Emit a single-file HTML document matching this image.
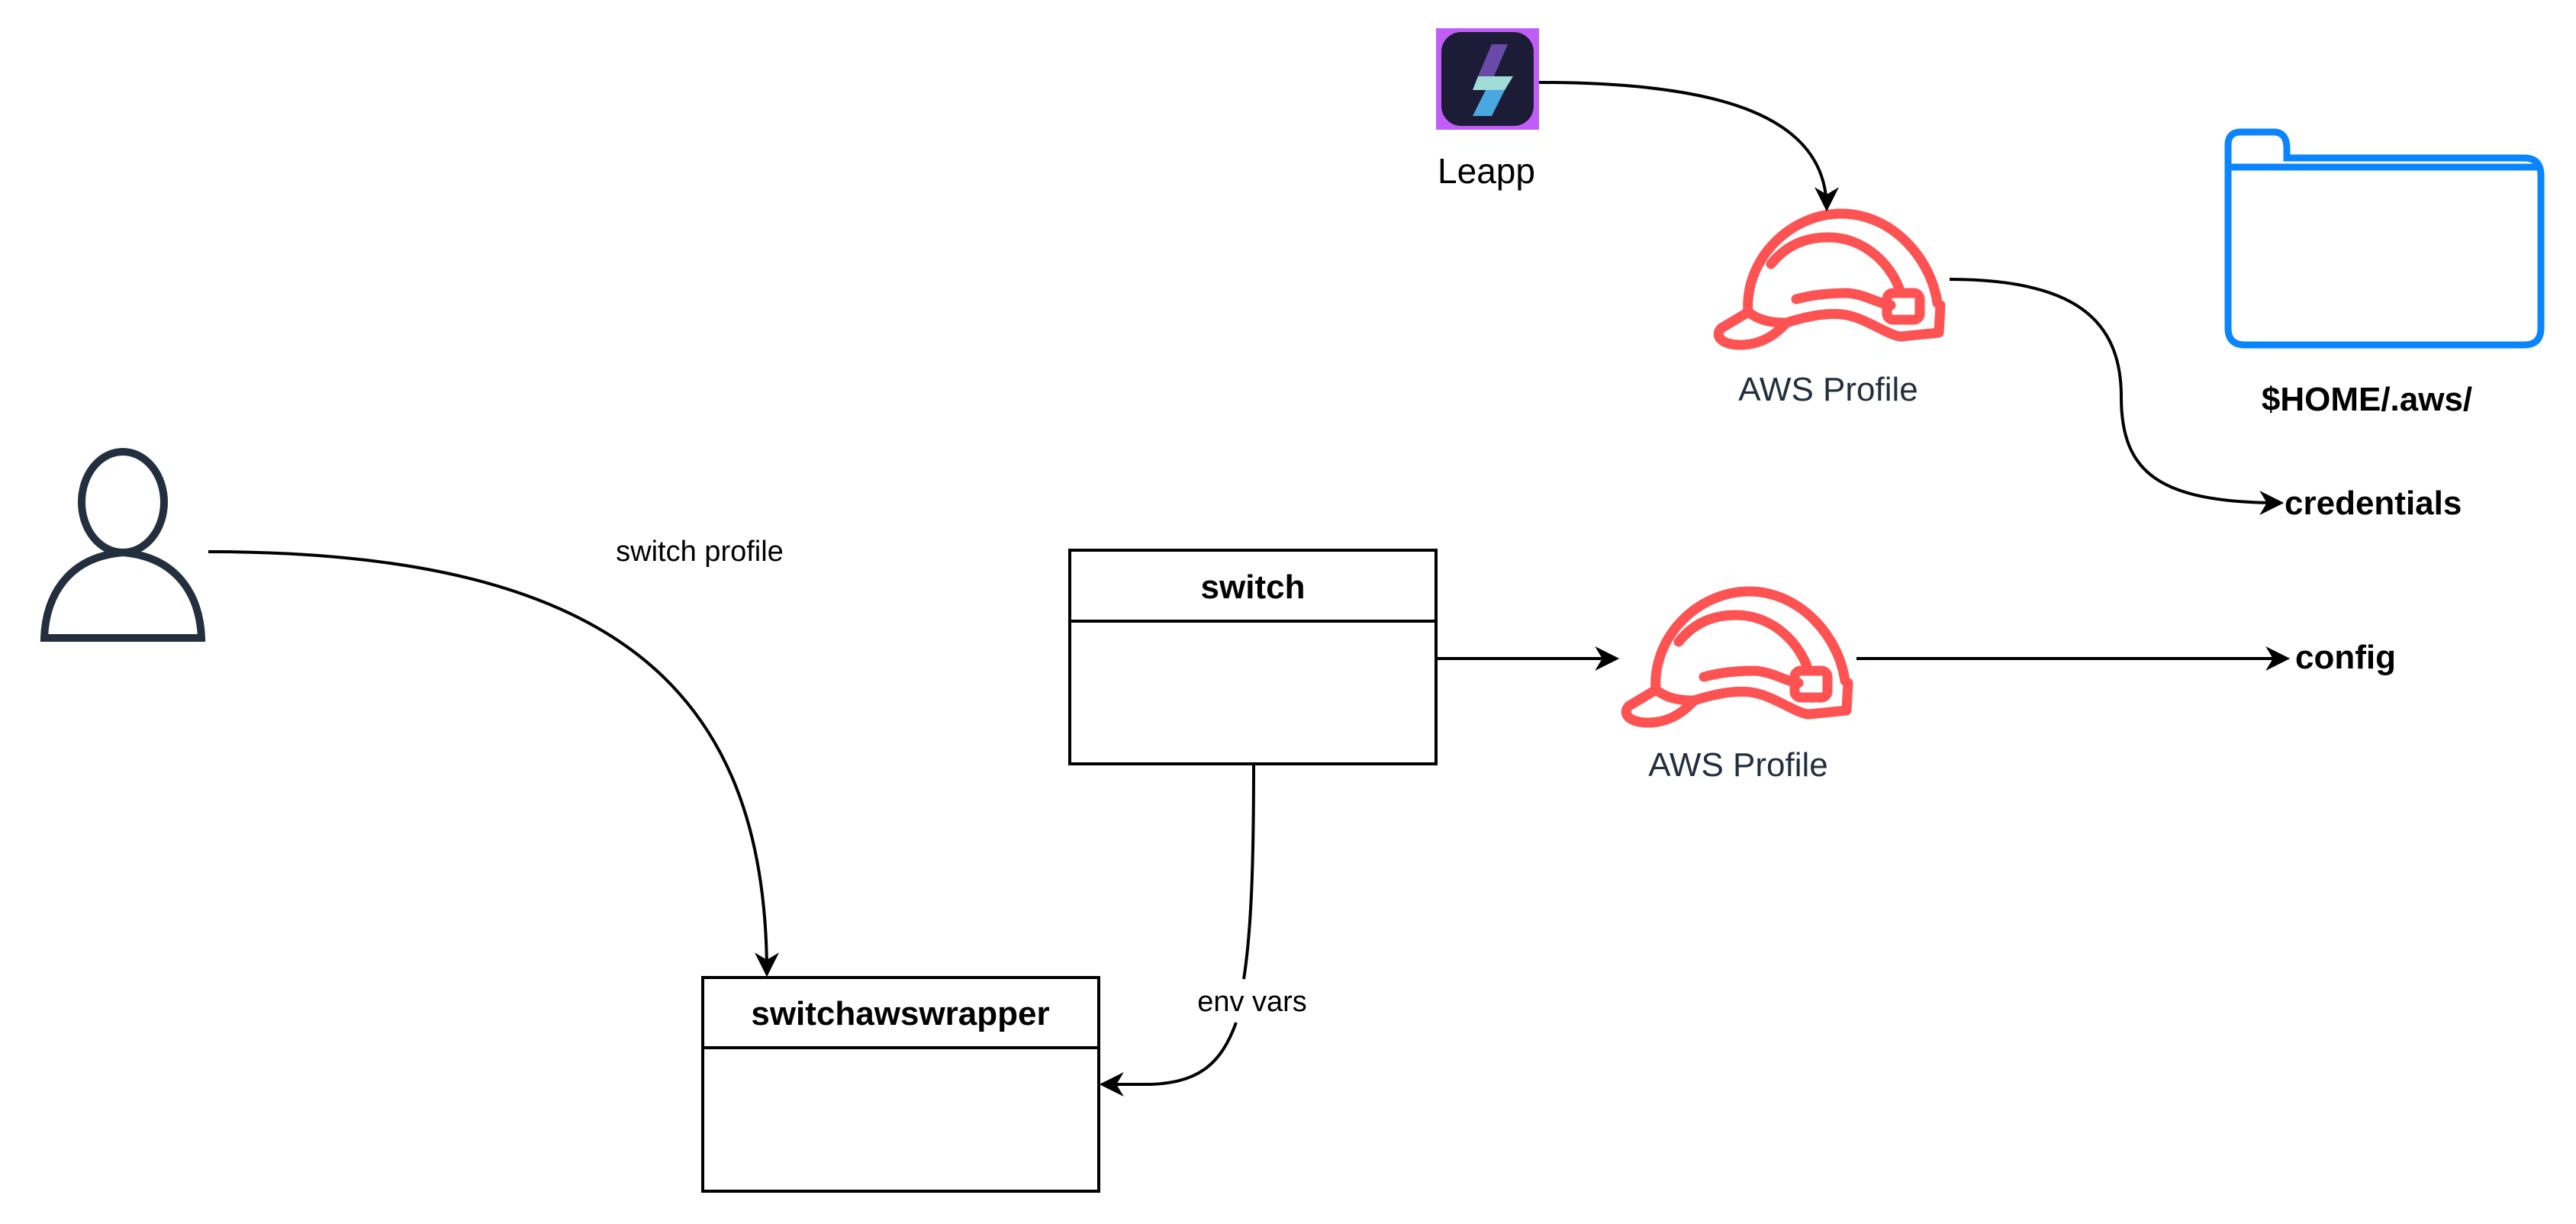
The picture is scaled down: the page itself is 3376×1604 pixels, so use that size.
<!DOCTYPE html>
<html><head><meta charset="utf-8"><style>
html,body{margin:0;padding:0;background:#fff;}
svg{display:block;}
text{font-family:"Liberation Sans",Arial,sans-serif;}
</style></head><body>
<svg width="3376" height="1604" viewBox="0 0 3376 1604" xmlns="http://www.w3.org/2000/svg">
<defs>
<marker id="ah" viewBox="0 0 20 20" refX="18" refY="10" markerWidth="32" markerHeight="32" markerUnits="userSpaceOnUse" orient="auto">
<path d="M0,0 L20,10 L0,20 L6,10 Z" fill="#000"/>
</marker>
<g id="hat" fill="none" stroke="#ff5252" stroke-width="13" stroke-linejoin="round" stroke-linecap="round">
<path d="M45,129 C40,60 100,0 167,0 C235,0 285,60 293,117"/>
<path d="M75,66 C100,35 130,31 150,31 C200,31 235,70 245,104"/>
<path d="M45,129 L10,150 C0,160 10,172 35,172 C60,172 80,160 95,143 C120,135 150,128 175,133 C200,138 230,160 245,161 L295,156 L297,120"/>
<path d="M45,129 C60,140 75,143 95,143"/>
<path d="M108,112 C130,106 155,104 175,104 C200,106 215,118 232,120"/>
<rect x="227" y="104" width="43" height="35" rx="8"/>
</g>
</defs>

<!-- Person -->
<g fill="none" stroke="#232f3e" stroke-width="10">
<ellipse cx="161" cy="658" rx="54" ry="66"/>
<path d="M58,836 C60,780 90,730 161,724 C232,730 262,780 264,836 Z"/>
</g>

<!-- Leapp icon -->
<rect x="1882" y="37" width="135" height="133" fill="#c05df6"/>
<rect x="1889" y="42" width="121" height="123" rx="26" fill="#1c1c36"/>
<polygon points="1955,58 1976,58 1958,100 1937,100" fill="#6a4aa8"/>
<polygon points="1937,100 1983,100 1972,118 1930,118" fill="#9fdcd8"/>
<polygon points="1947,118 1972,118 1955,152 1930,152" fill="#4aa8e0"/>
<text x="1948" y="240" font-size="46" text-anchor="middle" fill="#000">Leapp</text>

<!-- Hat 1 -->
<use href="#hat" x="2246" y="280"/>
<text x="2396" y="525" font-size="44" text-anchor="middle" fill="#232f3e">AWS Profile</text>

<!-- Hat 2 -->
<use href="#hat" x="2125" y="775"/>
<text x="2278" y="1017" font-size="44" text-anchor="middle" fill="#232f3e">AWS Profile</text>

<!-- Folder -->
<path d="M2920,211 L2920,430 Q2920,452 2942,452 L3308,452 Q3330,452 3330,430 L3330,230 Q3330,207 3308,207 L2997,207 L2997,195 Q2997,173 2980,173 L2937,173 Q2920,173 2920,190 Z" fill="none" stroke="#0a84ff" stroke-width="9"/>
<line x1="2920" y1="219" x2="3330" y2="219" stroke="#0a84ff" stroke-width="9"/>
<text x="3102" y="538" font-size="44" font-weight="bold" text-anchor="middle" fill="#000">$HOME/.aws/</text>

<!-- Boxes -->
<rect x="1402" y="721" width="480" height="280" fill="#fff" stroke="#000" stroke-width="4"/>
<line x1="1402" y1="814" x2="1882" y2="814" stroke="#000" stroke-width="4"/>
<text x="1642" y="784" font-size="44" font-weight="bold" text-anchor="middle">switch</text>

<rect x="921" y="1281" width="519" height="280" fill="#fff" stroke="#000" stroke-width="4"/>
<line x1="921" y1="1373" x2="1440" y2="1373" stroke="#000" stroke-width="4"/>
<text x="1180" y="1343" font-size="44" font-weight="bold" text-anchor="middle">switchawswrapper</text>

<!-- Connectors -->
<g fill="none" stroke="#000" stroke-width="4">
<path d="M2017,108 C2250,108 2394,150 2394,274" marker-end="url(#ah)"/>
<path d="M2555,366 C2720,366 2780,420 2780,520 C2780,620 2830,659 2990,659" marker-end="url(#ah)"/>
<path d="M273,723 C800,723 1005,900 1005,1277" marker-end="url(#ah)"/>
<path d="M1882,863 L2119,863" marker-end="url(#ah)"/>
<path d="M2433,863 L2998,863" marker-end="url(#ah)"/>
<path d="M1643,1001 C1643,1130 1640,1220 1630,1283 M1620,1340 C1600,1395 1570,1421 1500,1421"/>
<path d="M1500,1421 L1444,1421" marker-end="url(#ah)"/>
</g>

<text x="917" y="735" font-size="38" text-anchor="middle">switch profile</text>
<text x="1641" y="1325" font-size="38" text-anchor="middle">env vars</text>
<text x="2994" y="674" font-size="44" font-weight="bold">credentials</text>
<text x="3008" y="876" font-size="44" font-weight="bold">config</text>
</svg>
</body></html>
